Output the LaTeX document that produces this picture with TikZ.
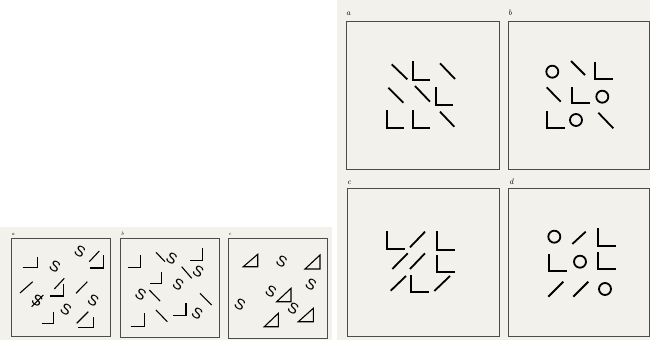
\documentclass[tikz,border=0pt]{standalone}
\usepackage{fontspec}
\newfontfamily\glyphfont{Liberation Sans}
\definecolor{papertone}{RGB}{243,241,236}
\begin{document}
\begin{tikzpicture}[x=1pt,y=-1pt,
  paper/.style={fill=papertone,draw=none},
  frame/.style={draw=black!70,line width=0.8pt},
  rstroke/.style={line width=1.8pt,line cap=butt},
  lstroke/.style={line width=1.1pt},
  lbl/.style={font=\itshape\fontsize{8}{8}\selectfont,inner sep=0pt,anchor=base west},
  slbl/.style={font=\itshape\fontsize{5}{5}\selectfont,inner sep=0pt,anchor=base west},
  sglyph/.style={font=\glyphfont\fontsize{15}{15}\selectfont,inner sep=0pt,rotate=-30},
  circ/.style={line width=1.8pt}]
\useasboundingbox (0,0) rectangle (650,340);
\fill[white] (0,0) rectangle (650,340);
\fill[paper] (337,0) rectangle (650,340);
\fill[paper] (0,227) rectangle (332,340);

% ---------- right panels: frames and labels ----------
\draw[frame] (346,21) rectangle (499,169);
\draw[frame] (508,21) rectangle (649.5,169);
\draw[frame] (347,188) rectangle (499,336);
\draw[frame] (508,188) rectangle (649.5,336);
\node[lbl] (la) at (346,16) {a};
\node[lbl] (lb) at (508,16) {b};
\node[lbl] (lc) at (347,184) {c};
\node[lbl] (ld) at (509,184) {d};

% panel a
\draw[rstroke] (391.7,64.3) -- (407.3,79.3);
\draw[rstroke] (412.7,61) |- (430,80);
\draw[rstroke] (440,63.3) -- (455,79);
\draw[rstroke] (388.3,87.7) -- (403.3,102.7);
\draw[rstroke] (415,86) -- (430,101.7);
\draw[rstroke] (435.7,87.3) |- (453.3,105);
\draw[rstroke] (387.3,110) |- (404.3,127.7);
\draw[rstroke] (412.7,110) |- (430,127.7);
\draw[rstroke] (440,111.7) -- (454.3,126.7);

% panel b
\draw[circ] (552.3,71.7) circle (6);
\draw[rstroke] (571,61) -- (585,75);
\draw[rstroke] (595,61.7) |- (613.3,79);
\draw[rstroke] (546.7,87.3) -- (560.7,101.7);
\draw[rstroke] (571.7,87.3) |- (590,103.3);
\draw[circ] (602.3,96.7) circle (6);
\draw[rstroke] (547.3,111) |- (565,128.3);
\draw[circ] (576,120) circle (6);
\draw[rstroke] (598.3,112.7) -- (613.3,128.3);

% panel c
\draw[rstroke] (387.3,231) |- (405,249);
\draw[rstroke] (410,247.3) -- (425,231.7);
\draw[rstroke] (436.7,231) |- (455,250);
\draw[rstroke] (392.3,269) -- (407.7,253.3);
\draw[rstroke] (410,269) -- (425,253.3);
\draw[rstroke] (436.7,255) |- (455,271.7);
\draw[rstroke] (390.7,290.7) -- (406,276);
\draw[rstroke] (411,275) |- (429.3,291.7);
\draw[rstroke] (434.3,291) -- (450,276);

% panel d
\draw[circ] (554.3,236.7) circle (6);
\draw[rstroke] (572.3,244) -- (585.7,231.7);
\draw[rstroke] (598.3,228.3) |- (616,246);
\draw[rstroke] (549.3,254) |- (566.7,270.7);
\draw[circ] (580,261.7) circle (6);
\draw[rstroke] (598.3,251.7) |- (616,269.3);
\draw[rstroke] (548.3,296.7) -- (563.3,281.7);
\draw[rstroke] (573.3,296.7) -- (588.3,281.7);
\draw[circ] (605,289) circle (6);

% ---------- left panels ----------
\draw[frame,line width=0.7pt] (11.7,238.3) rectangle (110.5,336.5);
\draw[frame,line width=0.7pt] (120,238.3) rectangle (219,337.5);
\draw[frame,line width=0.7pt] (228.3,238.3) rectangle (327,338);
\node[slbl] (sa) at (11.5,235) {a};
\node[slbl] (sb) at (121,235) {b};
\node[slbl] (sc) at (228.5,235) {c};

% left a
\draw[lstroke] (22.7,267.7) -| (37.3,256.7);
\node[sglyph] (a1) at (80,251.7) {S};
\draw[lstroke] (89.3,261.7) -- (99.3,251);
\draw[lstroke] (90,268) -| (103.3,255);
\node[sglyph] (a2) at (55,266.7) {S};
\draw[lstroke] (20,293) -- (32.7,281.7);
\draw[lstroke] (54.3,289) -- (64.3,278.3);
\draw[lstroke] (50,296) -| (63.3,284.3);
\draw[lstroke] (76,293.3) -- (87.3,281.7);
\node[sglyph] (a3) at (37.3,301) {S};
\draw[lstroke] (31.7,306.7) -- (43.3,295);
\node[sglyph] (a4) at (93.3,300.5) {S};
\node[sglyph] (a5) at (66,310) {S};
\draw[lstroke] (41.7,323.3) -| (53.3,311.7);
\draw[lstroke] (76.7,323.3) -- (88.3,311.7);
\draw[lstroke] (78.3,327.3) -| (93.3,316.7);

% left b
\draw[lstroke] (128.3,267.7) -| (140.7,255);
\draw[lstroke] (156,252.3) -- (165,261.7);
\node[sglyph] (b1) at (171.7,258.3) {S};
\draw[lstroke] (190,260.7) -| (202.7,248.3);
\draw[lstroke] (150,283.3) -| (161.7,271.7);
\draw[lstroke] (181.7,266.7) -- (191.7,278.3);
\node[sglyph] (b2) at (198.3,271.7) {S};
\node[sglyph] (b3) at (140.7,294.3) {S};
\draw[lstroke] (149.3,290) -- (160,301);
\node[sglyph] (b4) at (178.3,285) {S};
\draw[lstroke] (200,293.3) -- (211.7,305);
\draw[lstroke] (156,310) -- (167.3,321.7);
\draw[lstroke] (173.3,315.7) -| (186,303.3);
\node[sglyph] (b5) at (197.3,313.3) {S};
\draw[lstroke] (130.7,326.7) -| (144.3,313.3);

% left c
\draw[lstroke] (243.3,266.7) -- (257.7,254.3) -- (257.7,266.7) -- cycle;
\node[sglyph] (c1) at (281.7,261.7) {S};
\draw[lstroke] (305,269) -- (320,255) -- (320,269) -- cycle;
\node[sglyph] (c2) at (311,284.3) {S};
\node[sglyph] (c3) at (271,291.7) {S};
\draw[lstroke] (276.7,301.7) -- (291,288.3) -- (291,301.7) -- cycle;
\node[sglyph] (c4) at (240,304.3) {S};
\node[sglyph] (c5) at (293.3,308.3) {S};
\draw[lstroke] (298.3,321.7) -- (313.3,308.3) -- (313.3,321.7) -- cycle;
\draw[lstroke] (264.3,326.7) -- (278.3,313.3) -- (278.3,326.7) -- cycle;
\end{tikzpicture}
\end{document}
